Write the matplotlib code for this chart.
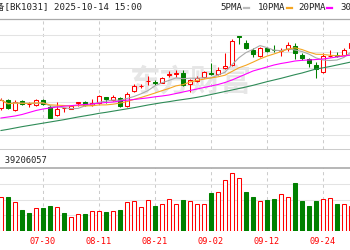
import numpy as np
import pandas as pd
import matplotlib
matplotlib.use('Agg')
import matplotlib.pyplot as plt
from matplotlib.lines import Line2D

plt.rcParams['font.family'] = ['DejaVu Sans Mono', 'Noto Sans CJK SC']

# trading days shown in the crop (07-22 .. 09-30)
dates = pd.bdate_range('2025-07-22', '2025-09-30')
tick_labels = ['07-30', '08-11', '08-21', '09-02', '09-12', '09-24']

opens = [2165, 2210, 2153, 2207, 2185, 2183, 2210, 2168, 2120, 2160,
         2159, 2190, 2201, 2180, 2194, 2228, 2210, 2222, 2174, 2266,
         2292, 2322, 2317, 2314, 2362, 2368, 2370, 2304, 2324, 2346,
         2375, 2366, 2400, 2420, 2594, 2554, 2510, 2474, 2520, 2511,
         2504, 2514, 2534, 2480, 2454, 2420, 2380, 2472, 2477, 2480, 2520]
highs = [2222, 2219, 2210, 2213, 2200, 2219, 2216, 2183, 2201, 2162,
         2180, 2195, 2207, 2216, 2240, 2231, 2240, 2231, 2260, 2304,
         2306, 2354, 2330, 2346, 2384, 2390, 2390, 2338, 2354, 2384,
         2430, 2410, 2490, 2574, 2595, 2570, 2520, 2530, 2526, 2540,
         2524, 2560, 2550, 2490, 2460, 2440, 2490, 2510, 2500, 2520, 2566]
lows = [2153, 2156, 2144, 2180, 2170, 2174, 2180, 2102, 2114, 2138,
        2156, 2177, 2174, 2174, 2186, 2190, 2204, 2168, 2166, 2260,
        2280, 2300, 2300, 2310, 2346, 2350, 2294, 2260, 2316, 2340,
        2360, 2360, 2396, 2414, 2546, 2514, 2470, 2466, 2500, 2496,
        2474, 2504, 2454, 2450, 2410, 2340, 2370, 2470, 2470, 2474, 2510]
closes = [2210, 2165, 2201, 2186, 2186, 2210, 2186, 2105, 2159, 2162,
          2177, 2195, 2180, 2195, 2234, 2214, 2226, 2172, 2249, 2294,
          2294, 2324, 2315, 2340, 2364, 2370, 2300, 2330, 2340, 2376,
          2366, 2390, 2411, 2566, 2586, 2520, 2486, 2524, 2506, 2509,
          2506, 2540, 2490, 2460, 2430, 2394, 2476, 2474, 2475, 2510, 2554]

# volume in millions, and whether the volume bar is drawn red
vol_m = [21.6, 21.8, 18.8, 13.5, 11.7, 14.5, 14.5, 16.0, 15.2, 11.3,
         9.2, 10.7, 10.7, 12.8, 12.8, 12.4, 12.8, 13.5, 18.6, 19.2,
         15.6, 19.9, 16.2, 17.3, 20.3, 17.1, 19.9, 19.2, 17.1, 17.5,
         24.2, 25.0, 32.7, 37.0, 33.8, 25.0, 22.0, 19.2, 19.9, 20.5,
         23.5, 22.0, 31.0, 19.2, 16.2, 19.2, 20.3, 21.3, 17.1, 17.1, 16.2]
vol_up = [1, 0, 1, 0, 0, 1, 0, 0, 1, 0,
          1, 1, 0, 1, 1, 0, 1, 0, 1, 1,
          1, 1, 0, 1, 1, 1, 0, 1, 1, 1,
          0, 1, 1, 1, 1, 0, 0, 1, 0, 0,
          1, 1, 0, 0, 0, 0, 1, 1, 0, 1, 1]

# longer averages (history before the crop is not visible)
ma20 = [2102, 2108, 2114, 2123, 2135, 2147, 2156, 2162, 2168, 2173,
        2176, 2180, 2183, 2186, 2191, 2195, 2198, 2204, 2209, 2213,
        2218, 2223, 2229, 2234, 2240, 2249, 2258, 2267, 2276, 2285,
        2294, 2303, 2315, 2330, 2348, 2366, 2384, 2396, 2408, 2420,
        2429, 2436, 2444, 2448, 2450, 2453, 2456, 2462, 2468, 2474, 2480]
ma30 = [2027, 2034, 2042, 2050, 2057, 2064, 2071, 2078, 2085, 2092,
        2100, 2108, 2115, 2122, 2130, 2136, 2143, 2150, 2157, 2164,
        2172, 2180, 2187, 2194, 2200, 2207, 2213, 2219, 2226, 2234,
        2243, 2252, 2261, 2270, 2279, 2288, 2298, 2309, 2320, 2330,
        2340, 2351, 2362, 2372, 2384, 2396, 2403, 2411, 2420, 2429, 2438]

RED = '#ff0000'
GREEN = '#008000'

x = np.arange(len(dates))
o = np.array(opens)
c = np.array(closes)
up = c >= o
ma5 = pd.Series(closes).rolling(5, min_periods=1).mean()
ma10 = pd.Series(closes).rolling(10, min_periods=1).mean()
tick_pos = [i for i, d in enumerate(dates) if d.strftime('%m-%d') in tick_labels]

fig = plt.figure(figsize=(3.5, 2.5), dpi=100)
ax = fig.add_axes([0, 0.406, 1, 0.518])
axv = fig.add_axes([0, 0.076, 1, 0.252])

xlim = (-0.143, 49.857)
width = 0.64

# price panel
ax.text(27, 2318, '东方财富', fontsize=22, color='#e6e6e6', ha='center', va='center',
        family='Noto Sans CJK SC', fontweight='bold', zorder=1)
colors = np.where(up, RED, GREEN)
ax.vlines(x, lows, highs, colors=colors, lw=0.75, zorder=2)
body = np.maximum(np.abs(c - o), 1.5)
ax.bar(x, body, bottom=np.minimum(o, c), width=width,
       color=np.where(up, 'white', GREEN), edgecolor=colors, linewidth=0.75, zorder=3)
ax.plot(x, ma5, color='#aaaaaa', lw=0.8, zorder=4)
ax.plot(x, ma10, color='#f5a623', lw=0.8, zorder=4)
ax.plot(x, ma20, color='#ff00ff', lw=0.8, zorder=4)
ax.plot(x, ma30, color='#2e8b57', lw=0.8, zorder=4)
ax.set_xlim(*xlim)
ax.set_ylim(1919, 2696)
ax.set_yticks(range(2000, 2700, 100))
ax.set_xticks(tick_pos)
ax.yaxis.grid(True, color='#e3e3e3', lw=0.75)
ax.xaxis.grid(True, color='#cccccc', lw=0.75, ls=(0, (3, 3)))
ax.set_axisbelow(True)
ax.tick_params(length=0, labelleft=False, labelbottom=False)
for s in ['left', 'right']:
    ax.spines[s].set_visible(False)
ax.spines['top'].set_color('#aaaaaa')
ax.spines['top'].set_linewidth(0.9)
ax.spines['bottom'].set_color('#cccccc')
ax.spines['bottom'].set_linewidth(0.75)

# volume panel
vcol = [RED if u else GREEN for u in vol_up]
vfill = ['white' if u else GREEN for u in vol_up]
axv.bar(x, vol_m, width=width, color=vfill, edgecolor=vcol, linewidth=0.75, zorder=3)
axv.set_xlim(*xlim)
axv.set_ylim(0, 40.3)
axv.set_yticks([10, 20, 30])
axv.set_xticks(tick_pos)
axv.set_xticklabels(tick_labels, fontsize=6.2, color=RED)
axv.yaxis.grid(True, color='#e3e3e3', lw=0.75)
axv.xaxis.grid(True, color='#cccccc', lw=0.75, ls=(0, (3, 3)))
axv.set_axisbelow(True)
axv.tick_params(length=0, labelleft=False, pad=4)
for s in ['left', 'right', 'bottom']:
    axv.spines[s].set_visible(False)
axv.spines['top'].set_color('#aaaaaa')
axv.spines['top'].set_linewidth(1.2)

# header texts
fig.text(142 / 350, 1 - 7.5 / 250, '光伏设备[BK1031] 2025-10-14 15:00',
         ha='right', va='center', fontsize=6.6, color='#222222')
fig.text(47 / 350, 1 - 160 / 250, '成交量: 39206057',
         ha='right', va='center', fontsize=6.3, color='#222222')

legend = [('5PMA', 220, '#bbbbbb'), ('10PMA', 258, '#f5a623'),
          ('20PMA', 298, '#ff00ff'), ('30PMA', 340, '#2e8b57')]
fy = 1 - 7.7 / 250
for name, px, col in legend:
    fig.text(px / 350, fy, name, ha='left', va='center', fontsize=6.6, color='#222222')
    x0 = px + 5.5 * len(name) + 1.5
    fig.add_artist(Line2D([x0 / 350, (x0 + 5) / 350], [fy, fy],
                          transform=fig.transFigure, color=col, lw=1.6))

fig.savefig('out.png', dpi=100)
